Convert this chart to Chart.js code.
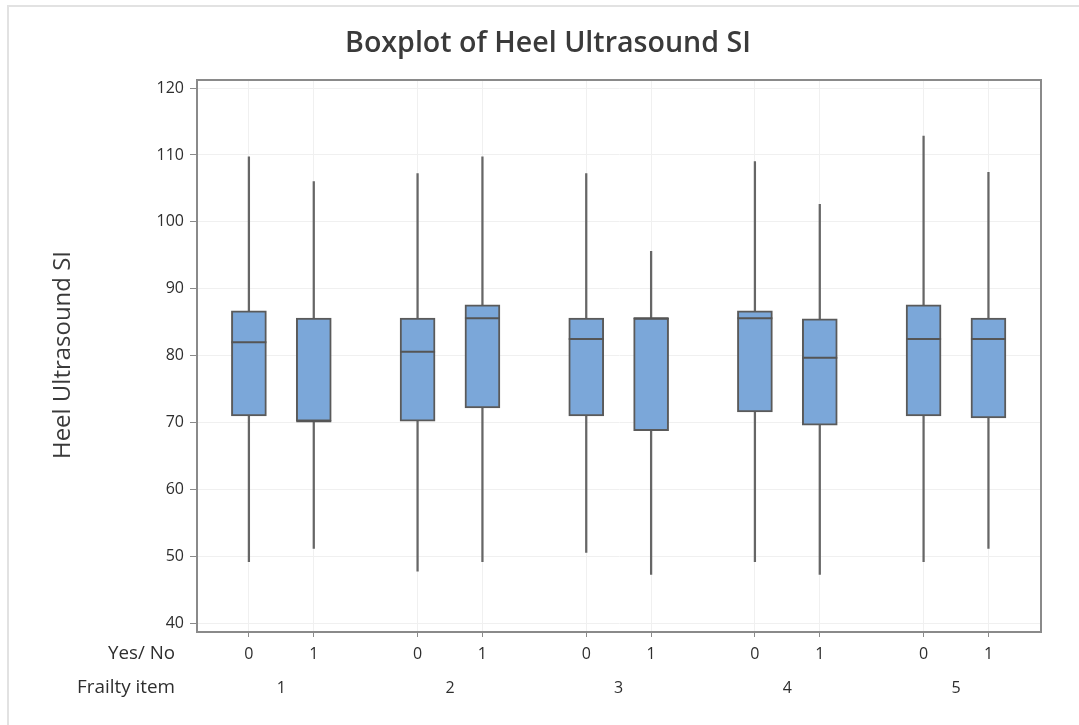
<!DOCTYPE html>
<html>
<head>
<meta charset="utf-8">
<script src="https://cdn.jsdelivr.net/npm/chart.js"></script>
<style>
html,body{margin:0;padding:0;background:#fff;overflow:hidden;}
#wrap{position:relative;width:1079px;height:725px;overflow:hidden;}
#frame{position:absolute;left:7px;top:5px;width:1100px;height:760px;border-top:2px solid #e2e2e2;border-left:2px solid #e2e2e2;pointer-events:none;}
canvas{position:absolute;left:0;top:0;}
</style>
</head>
<body>
<div id="wrap"><canvas id="c" width="1079" height="725"></canvas><div id="frame"></div></div>
<script>
// ---- data ----
const frailtyItems = ['1', '2', '3', '4', '5'];
const yesNo = ['0', '1'];
// order: item1-0, item1-1, item2-0, item2-1, ...
const whiskerLow  = [49.2, 51.2, 47.8, 49.2, 50.6, 47.3, 49.2, 47.3, 49.2, 51.2];
const q1          = [71.0, 70.2, 70.2, 72.2, 71.0, 68.8, 71.6, 69.6, 71.0, 70.7];
const median      = [82.0, 70.2, 80.6, 85.6, 82.5, 85.6, 85.6, 79.7, 82.5, 82.5];
const q3          = [86.7, 85.6, 85.6, 87.6, 85.6, 85.6, 86.7, 85.5, 87.6, 85.6];
const whiskerHigh = [109.7, 106.0, 107.2, 109.7, 107.2, 95.6, 109.0, 102.6, 112.8, 107.4];
const yTickValues = [40, 50, 60, 70, 80, 90, 100, 110, 120];

const titleText = 'Boxplot of Heel Ultrasound SI';
const yTitleText = 'Heel Ultrasound SI';
const row1Label = 'Yes/ No';
const row2Label = 'Frailty item';

// ---- layout helpers ----
const FONT = "'Open Sans', 'Noto Sans', sans-serif";
const GROUP_STEP = 2.6;
const boxes = [];
frailtyItems.forEach((g, gi) => {
  yesNo.forEach((yn, ji) => boxes.push({ x: gi * GROUP_STEP + ji, label: yn }));
});
const centerTicks = frailtyItems.map((g, gi) => ({ x: gi * GROUP_STEP + 0.5, label: ['', g] }));
const labelMap = new Map();
boxes.forEach(b => labelMap.set(b.x, b.label));
centerTicks.forEach(c => labelMap.set(c.x, c.label));
const centerSet = new Set(centerTicks.map(c => c.x));

const whiskerData = boxes.map((b, i) => ({ x: b.x, y: [whiskerLow[i], whiskerHigh[i]] }));
const boxData = boxes.map((b, i) => ({ x: b.x, y: [q1[i], q3[i]] }));
const medianData = boxes.map((b, i) => ({ x: b.x, y: median[i] }));

const textColor = '#2e2e2e';
const axisColor = '#8a8a8a';
const gridColor = '#f0f0f0';

function fitFont(ctx, text, weight, startSize, targetWidth) {
  ctx.font = weight + ' ' + startSize + 'px ' + FONT;
  const w = ctx.measureText(text).width;
  const size = startSize * targetWidth / w;
  return weight + ' ' + size.toFixed(2) + 'px ' + FONT;
}

const decor = {
  id: 'decor',
  afterDatasetsDraw(chart) {
    const { ctx, chartArea: a } = chart;
    ctx.save();
    ctx.strokeStyle = axisColor;
    ctx.lineWidth = 2;
    ctx.beginPath();
    ctx.moveTo(a.left, a.top);
    ctx.lineTo(a.right, a.top);
    ctx.lineTo(a.right, a.bottom);
    ctx.stroke();
    ctx.restore();
  },
  afterDraw(chart) {
    const { ctx, chartArea: a } = chart;
    ctx.save();
    ctx.fillStyle = '#3a3a3a';
    ctx.font = fitFont(ctx, titleText, '600', 26, 406);
    ctx.textAlign = 'center';
    ctx.textBaseline = 'middle';
    ctx.fillText(titleText, 548, 44);

    ctx.font = fitFont(ctx, yTitleText, '400', 20, 208);
    ctx.fillStyle = '#3a3a3a';
    ctx.translate(63, 355);
    ctx.rotate(-Math.PI / 2);
    ctx.fillText(yTitleText, 0, 0);
    ctx.restore();

    ctx.save();
    ctx.fillStyle = textColor;
    ctx.textAlign = 'right';
    ctx.textBaseline = 'middle';
    ctx.font = fitFont(ctx, row1Label, '400', 16, 67);
    ctx.fillText(row1Label, 175, a.bottom + 22);
    ctx.font = fitFont(ctx, row2Label, '400', 16, 98);
    ctx.fillText(row2Label, 175, a.bottom + 56);
    ctx.restore();
  }
};

new Chart(document.getElementById('c'), {
  type: 'bar',
  data: {
    datasets: [
      {
        type: 'scatter',
        data: medianData,
        pointStyle: 'line',
        radius: 17.5,
        hoverRadius: 17.5,
        borderColor: '#555555',
        backgroundColor: '#555555',
        borderWidth: 2,
        order: 1
      },
      {
        data: boxData,
        grouped: false,
        barThickness: 35,
        backgroundColor: '#7ba7d9',
        borderColor: '#5a5a5a',
        borderWidth: 2,
        borderSkipped: false,
        order: 2
      },
      {
        data: whiskerData,
        grouped: false,
        barThickness: 1.6,
        backgroundColor: '#666666',
        borderWidth: 0,
        order: 3
      }
    ]
  },
  options: {
    responsive: false,
    animation: false,
    devicePixelRatio: 1,
    layout: { padding: { top: 80, right: 38, left: 0, bottom: 0 } },
    plugins: { legend: { display: false }, tooltip: { enabled: false }, title: { display: false } },
    scales: {
      x: {
        type: 'linear',
        offset: false,
        min: -0.8,
        max: 4 * GROUP_STEP + 1 + 0.81,
        afterBuildTicks(scale) {
          scale.ticks = boxes.map(b => ({ value: b.x })).concat(centerTicks.map(c => ({ value: c.x })));
        },
        afterFit(scale) { scale.height = 93; },
        ticks: {
          autoSkip: false,
          maxRotation: 0,
          padding: 0,
          color: textColor,
          font: { family: FONT, size: 16, lineHeight: '34px' },
          callback: (v) => labelMap.has(v) ? labelMap.get(v) : ''
        },
        grid: {
          offset: false,
          color: (c) => (c.tick && centerSet.has(c.tick.value)) ? 'rgba(0,0,0,0)' : gridColor,
          tickColor: (c) => (c.tick && centerSet.has(c.tick.value)) ? 'rgba(0,0,0,0)' : axisColor,
          tickLength: 5,
          lineWidth: 1
        },
        border: { display: true, color: axisColor, width: 2 }
      },
      y: {
        type: 'linear',
        min: 38.7,
        max: 121.2,
        afterBuildTicks(scale) { scale.ticks = yTickValues.map(v => ({ value: v })); },
        afterFit(scale) { scale.width = 197; },
        ticks: {
          padding: 6,
          color: textColor,
          font: { family: FONT, size: 16 }
        },
        grid: { color: gridColor, tickColor: axisColor, tickLength: 7, lineWidth: 1 },
        border: { display: true, color: axisColor, width: 2 }
      }
    }
  },
  plugins: [decor]
});
</script>
</body>
</html>
